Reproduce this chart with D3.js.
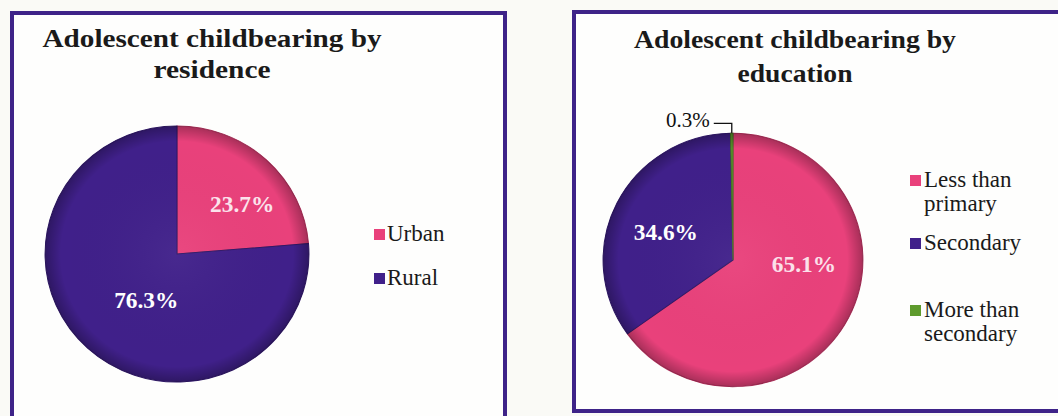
<!DOCTYPE html>
<html>
<head>
<meta charset="utf-8">
<script src="https://cdn.jsdelivr.net/npm/d3@7"></script>
<style>
  html, body { margin: 0; padding: 0; background: #fafaf6; }
  svg { display: block; }
</style>
</head>
<body>
<svg id="chart" width="1058" height="416" font-family="'Liberation Serif', 'DejaVu Serif', serif"></svg>
<script>
// ---- Data ----
const residenceCategories = ["Urban", "Rural"];
const residenceValues = [23.7, 76.3];
const residenceLabels = ["23.7%", "76.3%"];

const educationCategories = ["Less than primary", "Secondary", "More than secondary"];
const educationLegendLines = [["Less than", "primary"], ["Secondary"], ["More than", "secondary"]];
const educationValues = [65.1, 34.6, 0.3];
const educationLabels = ["65.1%", "34.6%", "0.3%"];

const titles = [["Adolescent childbearing by", "residence"], ["Adolescent childbearing by", "education"]];

// ---- Styles ----
const FONT = "'Liberation Serif', 'DejaVu Serif', serif";
const PINK = "#e9417b", PURPLE = "#40208a", GREEN = "#5e9b2d", BORDER = "#3e2388";

const svg = d3.select("#chart");
const defs = svg.append("defs");
const grad = defs.append("radialGradient").attr("id", "bevel");
grad.append("stop").attr("offset", "0%").attr("stop-color", "#fff").attr("stop-opacity", 0.04);
grad.append("stop").attr("offset", "88%").attr("stop-color", "#000").attr("stop-opacity", 0.0);
grad.append("stop").attr("offset", "100%").attr("stop-color", "#000").attr("stop-opacity", 0.28);

// Panel boxes
svg.append("rect").attr("x", 12).attr("y", 13).attr("width", 493).attr("height", 420)
  .attr("fill", "#fefefd").attr("stroke", BORDER).attr("stroke-width", 4);
svg.append("rect").attr("x", 574).attr("y", 12).attr("width", 520).attr("height", 399)
  .attr("fill", "#fefefd").attr("stroke", BORDER).attr("stroke-width", 4);

function txt(sel) {
  return sel.attr("font-family", FONT).style("font-family", FONT);
}

// Titles
function drawTitle(lines, cx, baselines, widths) {
  lines.forEach((t, i) => {
    txt(svg.append("text")).attr("x", cx).attr("y", baselines[i]).attr("text-anchor", "middle")
      .attr("font-size", 26).attr("font-weight", "bold").attr("fill", "#1a1a1a")
      .attr("textLength", widths[i]).attr("lengthAdjust", "spacingAndGlyphs").text(t);
  });
}
drawTitle(titles[0], 212, [47, 78], [339, 117]);
drawTitle(titles[1], 795, [48, 82], [322, 115]);

// Pie generator
const pie = d3.pie().sort(null).value(d => d);

function drawPie(values, colors, cx, cy, R, sx, sy) {
  const g = svg.append("g").attr("transform", `translate(${cx},${cy}) scale(${sx},${sy})`);
  const arcs = pie(values);
  const arc = d3.arc().innerRadius(0).outerRadius(R);
  g.selectAll("path.slice").data(arcs).enter().append("path").attr("class", "slice")
    .attr("d", arc).attr("fill", (d, i) => colors[i])
    .attr("stroke", (d, i) => d3.color(colors[i]).darker(0.8)).attr("stroke-width", 1);
  g.append("circle").attr("r", R).attr("fill", "url(#bevel)");
  return { g, arcs, arc };
}

// Left pie: residence
const leftPie = drawPie(residenceValues, [PINK, PURPLE], 177, 254, 130, 1.015, 0.985);
const leftLabelArc = d3.arc().innerRadius(80).outerRadius(80);
const leftNudge = [[10, 8], [0, 2]];
txt(leftPie.g.selectAll("text.lbl").data(leftPie.arcs).enter().append("text").attr("class", "lbl"))
  .attr("transform", (d, i) => {
    const c = leftLabelArc.centroid(d);
    return `translate(${c[0] + leftNudge[i][0]},${c[1] + leftNudge[i][1]})`;
  })
  .attr("text-anchor", "middle").attr("dy", "0.35em")
  .attr("font-size", 23).attr("font-weight", "bold").attr("fill", (d, i) => i === 0 ? "#fbe3ec" : "#ffffff")
  .text((d, i) => residenceLabels[i]);

leftPie.g.selectAll("text.lbl").filter((d, i) => i === 1)
  .attr("transform", d => {
    const c = d3.arc().innerRadius(58).outerRadius(58).centroid(d);
    return `translate(${c[0] + 9},${c[1] + 4})`;
  });

// Right pie: education
const rightPie = drawPie(educationValues, [PINK, PURPLE, GREEN], 733, 260, 128, 1.015, 0.99);
const rightLabelArc = d3.arc().innerRadius(74).outerRadius(74);
const rightNudge = [[4, -30], [0, 5]];
txt(rightPie.g.selectAll("text.lbl").data(rightPie.arcs.slice(0, 2)).enter().append("text").attr("class", "lbl"))
  .attr("transform", (d, i) => {
    const c = rightLabelArc.centroid(d);
    return `translate(${c[0] + rightNudge[i][0]},${c[1] + rightNudge[i][1]})`;
  })
  .attr("text-anchor", "middle").attr("dy", "0.35em")
  .attr("font-size", 23).attr("font-weight", "bold").attr("fill", (d, i) => i === 0 ? "#fbe0ea" : "#ffffff")
  .text((d, i) => educationLabels[i]);

// Outside label for smallest slice with leader line
{
  const d = rightPie.arcs[2];
  const mid = (d.startAngle + d.endAngle) / 2;
  const R = 128;
  const px = 733 + Math.sin(mid) * R * 1.015;
  const py = 260 - Math.cos(mid) * R * 0.99;
  const ly = py - 10;
  svg.append("path").attr("d", `M${px - 18},${ly} L${px},${ly} L${px},${py}`)
    .attr("fill", "none").attr("stroke", "#111").attr("stroke-width", 1.3);
  txt(svg.append("text")).attr("x", px - 22).attr("y", ly).attr("dy", "0.2em").attr("text-anchor", "end")
    .attr("font-size", 21).attr("fill", "#111").text(educationLabels[2]);
}

// Legends
function drawLegend(items, colors, x, textX, baselines, lineGap) {
  items.forEach((lines, i) => {
    const b = baselines[i];
    svg.append("rect").attr("x", x).attr("y", b - 12).attr("width", 11).attr("height", 11)
      .attr("fill", colors[i]);
    lines.forEach((t, j) => {
      txt(svg.append("text")).attr("x", textX).attr("y", b + j * lineGap)
        .attr("font-size", 23).attr("fill", "#1a1a1a").text(t);
    });
  });
}
drawLegend(residenceCategories.map(c => [c]), [PINK, PURPLE], 374, 387, [241, 285], 0);
drawLegend(educationLegendLines, [PINK, PURPLE, GREEN], 910, 924, [187, 250, 317], 24);
</script>
</body>
</html>
